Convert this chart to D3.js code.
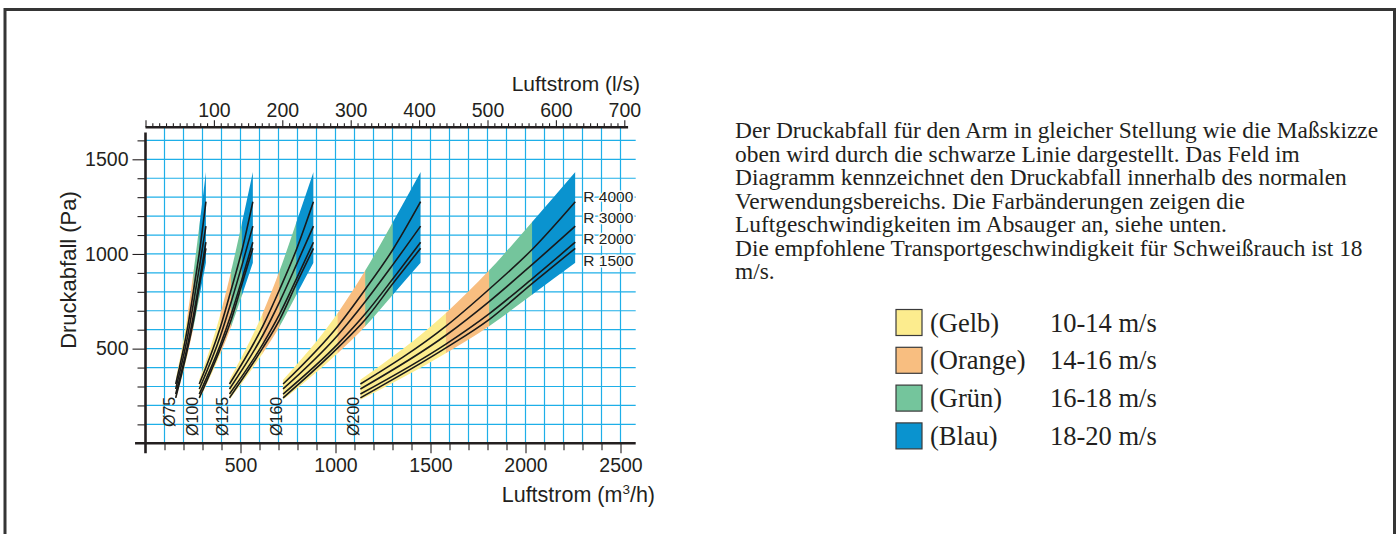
<!DOCTYPE html>
<html>
<head>
<meta charset="utf-8">
<script src="https://cdn.jsdelivr.net/npm/d3@7"></script>
<style>
  body { margin: 0; background: #fff; }
  svg { display: block; }
</style>
</head>
<body>
<svg id="chart"></svg>
<script>
// duct sizes and the airflow (m3/h) where the velocity hits 10, 14, 16, 18, 20 m/s
const diameters = ['Ø75', 'Ø100', 'Ø125', 'Ø160', 'Ø200'];
const flow75 = [159, 223, 254, 286, 318];
const flow100 = [283, 396, 452, 509, 565];
const flow125 = [442, 618, 707, 795, 884];
const flow160 = [724, 1013, 1158, 1303, 1448];
const flow200 = [1131, 1583, 1810, 2036, 2262];
const flows = [flow75, flow100, flow125, flow160, flow200];

// pressure drop (Pa) at those same break points
const bandUpper = [336, 690, 915, 1170, 1433];
const bandLower = [230, 477, 620, 786, 953];
const r4000 = [313, 620, 815, 1025, 1276];
const r3000 = [287, 572, 750, 945, 1147];
const r2000 = [260, 525, 685, 870, 1062];
const r1500 = [240, 505, 655, 845, 1030];
const radiusNames = ['R 4000', 'R 3000', 'R 2000', 'R 1500'];
const radiusLines = [r4000, r3000, r2000, r1500];

// velocity ranges (legend)
const speedNames = ['(Gelb)', '(Orange)', '(Grün)', '(Blau)'];
const speedRanges = ['10-14 m/s', '14-16 m/s', '16-18 m/s', '18-20 m/s'];
const speedColors = ['#fcec8e', '#f8be80', '#74c59c', '#0a93cf'];

// tick labels
const yTicks = [500, 1000, 1500];
const xTicks = [500, 1000, 1500, 2000, 2500];
const lsTicks = [100, 200, 300, 400, 500, 600, 700];

const paragraph = [
  'Der Druckabfall für den Arm in gleicher Stellung wie die Maßskizze',
  'oben wird durch die schwarze Linie dargestellt. Das Feld im',
  'Diagramm kennzeichnet den Druckabfall innerhalb des normalen',
  'Verwendungsbereichs. Die Farbänderungen zeigen die',
  'Luftgeschwindigkeiten im Absauger an, siehe unten.',
  'Die empfohlene Transportgeschwindigkeit für Schweißrauch ist 18',
  'm/s.'
];

const width = 1399, height = 534;
const ink = '#231f20';
const sans = '"Liberation Sans", Arial, sans-serif';
const serif = '"Liberation Serif", "Times New Roman", serif';

const svg = d3.select('#chart')
  .attr('width', width)
  .attr('height', height);

// outer frame (bottom edge is cut off in the original)
svg.append('rect')
  .attr('x', 5).attr('y', 9.5)
  .attr('width', 1389.5).attr('height', 600)
  .attr('fill', 'none')
  .attr('stroke', '#353535')
  .attr('stroke-width', 3);

const x = d3.scaleLinear().domain([0, 2500]).range([145.5, 620.5]);
const y = d3.scaleLinear().domain([0, 1500]).range([443.3, 159.3]);
// 1 l/s = 3.6 m3/h
const xLs = d3.scaleLinear().domain([0, 700]).range([x(0), x(2520)]);

// grid
const grid = svg.append('g')
  .attr('stroke', '#1eafe8')
  .attr('stroke-width', 1.2);

grid.selectAll('.v')
  .data(d3.range(100, 2501, 100))
  .join('line')
  .attr('class', 'v')
  .attr('x1', d => x(d)).attr('x2', d => x(d))
  .attr('y1', y(1669)).attr('y2', y(0));

grid.selectAll('.h')
  .data(d3.range(100, 1601, 100))
  .join('line')
  .attr('class', 'h')
  .attr('x1', x(0)).attr('x2', x(2580))
  .attr('y1', d => y(d)).attr('y2', d => y(d));

// coloured bands + resistance lines per diameter
const defs = svg.append('defs');
const area = d3.area()
  .x(d => x(d.q))
  .y0(d => y(d.lo))
  .y1(d => y(d.hi))
  .curve(d3.curveMonotoneX);

const line = d3.line()
  .x(d => x(d.q))
  .y(d => y(d.p))
  .curve(d3.curveMonotoneX);

const plot = svg.append('g');

flows.forEach((fl, i) => {
  const pts = fl.map((q, k) => ({ q, lo: bandLower[k], hi: bandUpper[k] }));

  speedColors.forEach((color, s) => {
    const id = `clip-${i}-${s}`;
    defs.append('clipPath').attr('id', id)
      .append('rect')
      .attr('x', x(fl[s]) - 0.3)
      .attr('width', x(fl[s + 1]) - x(fl[s]) + 0.6)
      .attr('y', 0).attr('height', height);

    plot.append('path')
      .datum(pts)
      .attr('d', area)
      .attr('fill', color)
      .attr('clip-path', `url(#${id})`);
  });

  radiusLines.forEach(vals => {
    plot.append('path')
      .datum(fl.map((q, k) => ({ q, p: vals[k] })))
      .attr('d', line)
      .attr('fill', 'none')
      .attr('stroke', '#1a1a1a')
      .attr('stroke-width', 1.6);
  });

  // diameter label under the start of the band
  plot.append('text')
    .attr('transform', `translate(${x(fl[0]) - 1}, ${y(bandLower[0]) - 3}) rotate(-90)`)
    .attr('text-anchor', 'end')
    .attr('font-family', sans)
    .attr('font-size', 16)
    .attr('fill', ink)
    .text(diameters[i]);
});

// R labels next to the end of the biggest duct
radiusNames.forEach((name, i) => {
  svg.append('text')
    .attr('x', x(flow200[4]) + 8)
    .attr('y', y(r4000[4]) + i * 21.3)
    .attr('font-family', sans)
    .attr('font-size', 15.5)
    .attr('fill', ink)
    .attr('stroke', '#fff')
    .attr('stroke-width', 3)
    .attr('paint-order', 'stroke')
    .text(name);
});

// axes
const styleAxis = g => {
  g.select('.domain').remove();
  g.selectAll('.tick line').attr('stroke', ink).attr('stroke-width', 1.1);
  g.selectAll('.tick text')
    .attr('font-family', sans)
    .attr('font-size', 19.5)
    .attr('fill', ink);
};
const fmt = d3.format('d');

svg.append('g')
  .attr('transform', `translate(${x(0)},0)`)
  .call(d3.axisLeft(y).tickValues(d3.range(100, 1601, 100).filter(d => d % 500)).tickSize(8).tickFormat(''))
  .call(styleAxis);
svg.append('g')
  .attr('transform', `translate(${x(0)},0)`)
  .call(d3.axisLeft(y).tickValues(yTicks).tickSize(13).tickPadding(4).tickFormat(fmt))
  .call(styleAxis);

svg.append('g')
  .attr('transform', `translate(0,${y(0)})`)
  .call(d3.axisBottom(x).tickValues(d3.range(100, 2501, 100).filter(d => d % 500)).tickSize(7).tickFormat(''))
  .call(styleAxis);
svg.append('g')
  .attr('transform', `translate(0,${y(0)})`)
  .call(d3.axisBottom(x).tickValues(xTicks).tickSize(10).tickPadding(5).tickFormat(fmt))
  .call(styleAxis);

svg.append('g')
  .attr('transform', `translate(0,${y(1669)})`)
  .call(d3.axisTop(xLs).tickValues(d3.range(0, 701, 10).filter(d => d % 100)).tickSize(4).tickFormat(''))
  .call(styleAxis);
svg.append('g')
  .attr('transform', `translate(0,${y(1669)})`)
  .call(d3.axisTop(xLs).tickValues([0].concat(lsTicks)).tickSize(7).tickPadding(3.5).tickFormat(d => d ? fmt(d) : ''))
  .call(styleAxis);

// thick axis lines
const axisLines = svg.append('g').attr('stroke', ink).attr('stroke-width', 2.6);
axisLines.append('line')
  .attr('x1', x(0)).attr('x2', x(0))
  .attr('y1', y(-52)).attr('y2', y(1642));
axisLines.append('line')
  .attr('x1', x(-55)).attr('x2', x(2580))
  .attr('y1', y(0)).attr('y2', y(0));
axisLines.append('line')
  .attr('x1', x(0)).attr('x2', x(2540))
  .attr('y1', y(1669)).attr('y2', y(1669));

// axis titles
svg.append('text')
  .attr('x', 640).attr('y', 91)
  .attr('text-anchor', 'end')
  .attr('font-family', sans).attr('font-size', 21).attr('fill', ink)
  .text('Luftstrom (l/s)');

const xTitle = svg.append('text')
  .attr('x', 655).attr('y', 502)
  .attr('text-anchor', 'end')
  .attr('font-family', sans).attr('font-size', 21.5).attr('fill', ink);
xTitle.append('tspan').text('Luftstrom (m');
xTitle.append('tspan').attr('font-size', 13.5).attr('dy', -8).text('3');
xTitle.append('tspan').attr('dy', 8).text('/h)');

svg.append('text')
  .attr('transform', 'translate(76, 270) rotate(-90)')
  .attr('text-anchor', 'middle')
  .attr('font-family', sans).attr('font-size', 22).attr('fill', ink)
  .text('Druckabfall (Pa)');

// explanation text
svg.append('g')
  .selectAll('text')
  .data(paragraph)
  .join('text')
  .attr('x', 735)
  .attr('y', (d, i) => 138 + i * 23.5)
  .attr('font-family', serif)
  .attr('font-size', 23.4)
  .attr('fill', ink)
  .text(d => d);

// legend
const legend = svg.append('g').attr('transform', 'translate(896, 309.5)');
const rows = legend.selectAll('g')
  .data(speedNames)
  .join('g')
  .attr('transform', (d, i) => `translate(0, ${i * 37.8})`);

rows.append('rect')
  .attr('width', 26).attr('height', 26)
  .attr('fill', (d, i) => speedColors[i])
  .attr('stroke', '#3a3a3a')
  .attr('stroke-width', 1.2);

rows.append('text')
  .attr('x', 34).attr('y', 22)
  .attr('font-family', serif).attr('font-size', 26.5).attr('fill', ink)
  .text(d => d);

rows.append('text')
  .attr('x', 154).attr('y', 22)
  .attr('font-family', serif).attr('font-size', 26.5).attr('fill', ink)
  .text((d, i) => speedRanges[i]);
</script>
</body>
</html>
